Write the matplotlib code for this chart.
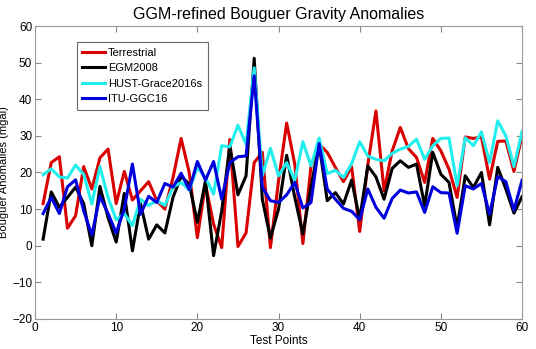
import numpy as np
import matplotlib
matplotlib.use("Agg")
import matplotlib.pyplot as plt

plt.rcParams['font.family'] = ['Liberation Sans', 'DejaVu Sans']

points = np.arange(1, 61)

terrestrial = [11.5, 22.7, 24.3, 4.8, 8.2, 21.6, 15.5, 24.0, 26.4, 11.5,
               20.3, 12.5, 15.0, 17.5, 12.3, 10.0, 18.6, 29.3, 20.0, 2.2,
               16.8, 5.9, -0.5, 29.0, -0.2, 3.5, 22.7, 25.5, -0.5, 17.7,
               33.5, 22.3, 0.6, 21.8, 27.7, 25.5, 21.4, 17.5, 21.6, 3.9,
               22.1, 36.8, 15.0, 25.9, 32.3, 26.5, 24.1, 17.3, 29.3, 25.9,
               20.9, 13.2, 29.7, 29.3, 29.7, 18.2, 28.5, 28.6, 20.3, 30.0]

egm2008 = [1.8, 14.7, 10.5, 13.2, 16.0, 11.5, 0.0, 16.2, 7.7, 1.0,
           14.3, -1.4, 11.5, 1.8, 5.7, 3.5, 13.2, 19.0, 16.8, 6.4,
           17.7, -2.7, 9.5, 27.3, 13.9, 19.1, 51.2, 12.7, 2.1, 10.0,
           24.7, 13.2, 3.2, 16.1, 27.7, 12.3, 14.5, 11.4, 17.9, 7.3,
           21.8, 18.8, 12.7, 21.1, 23.2, 21.4, 22.3, 10.9, 25.5, 19.5,
           17.3, 5.0, 19.1, 15.9, 20.0, 5.7, 21.4, 15.5, 8.9, 13.4]

hust = [19.4, 21.0, 18.8, 18.5, 22.0, 19.5, 11.4, 21.6, 13.2, 7.1,
        8.8, 5.5, 12.7, 11.0, 12.3, 11.0, 16.0, 17.3, 15.2, 21.4,
        18.6, 14.1, 27.3, 27.0, 32.9, 27.7, 48.6, 19.1, 26.6, 19.1,
        22.7, 17.9, 28.4, 21.8, 29.4, 19.7, 20.6, 18.6, 22.4, 28.4,
        24.5, 23.6, 23.2, 25.2, 26.4, 27.1, 29.1, 23.6, 27.3, 29.3,
        29.4, 16.4, 29.5, 27.3, 31.1, 22.7, 34.1, 30.0, 21.6, 31.2]

itu = [8.8, 13.2, 8.8, 16.1, 18.0, 9.5, 2.9, 13.5, 8.8, 3.5,
       10.0, 22.3, 8.6, 13.5, 11.8, 17.0, 16.0, 19.8, 15.3, 23.0,
       17.9, 23.0, 12.7, 22.7, 24.3, 24.5, 46.4, 16.0, 12.3, 11.8,
       13.9, 17.3, 10.3, 11.8, 27.9, 15.5, 12.7, 10.2, 9.4, 7.1,
       15.5, 10.5, 7.5, 12.9, 15.2, 14.4, 14.7, 9.1, 16.1, 14.5,
       14.4, 3.4, 16.4, 15.5, 17.0, 8.6, 18.9, 17.5, 9.7, 17.9]

fig = plt.figure(figsize=(5.36, 3.49), dpi=100)
ax = fig.add_axes([0.0653, 0.086, 0.9087, 0.8395])

ax.plot(points, terrestrial, color='#d80000', lw=2.2, label='Terrestrial')
ax.plot(points, egm2008, color='black', lw=2.2, label='EGM2008')
ax.plot(points, hust, color='#22eeee', lw=2.2, label='HUST-Grace2016s')
ax.plot(points, itu, color='#0000dd', lw=2.2, label='ITU-GGC16')

ax.set_xlim(0, 60)
ax.set_ylim(-20, 60)
ax.set_xticks(range(0, 61, 10))
ax.set_yticks(range(-20, 61, 10))
ax.tick_params(direction='in', top=True, right=True, labelsize=8.5,
               length=4, color='#888888', pad=2)
for s in ax.spines.values():
    s.set_color('#999999')

ax.set_title('GGM-refined Bouguer Gravity Anomalies', fontsize=11.5, pad=5)
ax.set_xlabel('Test Points', fontsize=8.5, labelpad=1)
ax.set_ylabel('Bouguer Anomalies (mgal)', fontsize=8)
ax.yaxis.set_label_coords(-0.054, 0.5)

leg = ax.legend(loc='upper left', bbox_to_anchor=(0.086, 0.945), fontsize=8,
                frameon=True, fancybox=False, handlelength=2.0,
                handletextpad=0.3, borderpad=0.5, labelspacing=0.5,
                borderaxespad=0)
leg.get_frame().set_edgecolor('#444444')
leg.get_frame().set_linewidth(0.8)

fig.savefig('out.png', dpi=100)
